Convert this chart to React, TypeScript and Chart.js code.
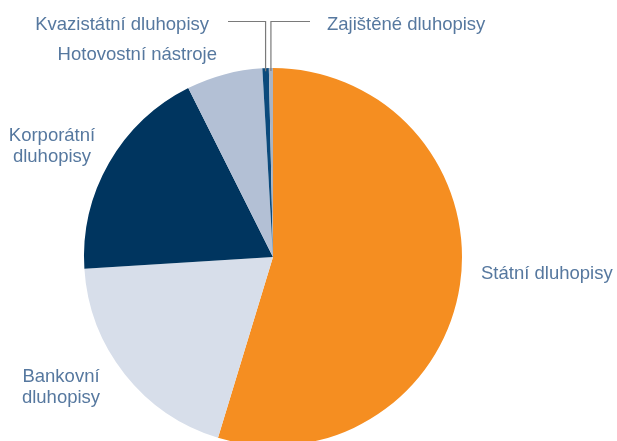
import React, { useEffect, useRef } from "react";
import { Chart, registerables } from "chart.js";

Chart.register(...registerables);

const categories = [
  "Státní dluhopisy",
  "Bankovní dluhopisy",
  "Korporátní dluhopisy",
  "Hotovostní nástroje",
  "Kvazistátní dluhopisy",
  "Zajištěné dluhopisy",
];
const values = [54.7, 19.3, 18.6, 6.5, 0.55, 0.35];
const colors = ["#F58E21", "#D7DEEA", "#00355F", "#B3C0D5", "#0B4A7C", "#A9B4C4"];

const TEXT_COLOR = "#56789F";
const FONT = "18.5px 'Liberation Sans', Arial, sans-serif";

const labelPlugin = {
  id: "pieLabels",
  afterDraw(chart: any) {
    const ctx = chart.ctx as CanvasRenderingContext2D;
    const meta = chart.getDatasetMeta(0);
    ctx.save();
    ctx.font = FONT;
    ctx.fillStyle = TEXT_COLOR;
    ctx.textBaseline = "alphabetic";

    const text = (s: string, x: number, y: number, align: CanvasTextAlign) => {
      ctx.textAlign = align;
      ctx.fillText(s, x, y);
    };
    text("Státní dluhopisy", 481, 279, "left");
    text("Bankovní", 61, 382, "center");
    text("dluhopisy", 61, 403, "center");
    text("Korporátní", 52, 141, "center");
    text("dluhopisy", 52, 162, "center");
    text("Hotovostní nástroje", 217, 60, "right");
    text("Kvazistátní dluhopisy", 209, 30, "right");
    text("Zajištěné dluhopisy", 327, 30, "left");

    // leader lines for the two small slices
    ctx.strokeStyle = "#7a7a7a";
    ctx.lineWidth = 1.2;
    const lineY = 21.5;
    const leader = (idx: number, toX: number) => {
      const arc = meta.data[idx];
      const p = arc.getProps(["x", "y", "startAngle", "endAngle", "outerRadius"], true);
      const mid = (p.startAngle + p.endAngle) / 2;
      const px = p.x + Math.cos(mid) * p.outerRadius;
      const py = p.y + Math.sin(mid) * (p.outerRadius - 3);
      ctx.beginPath();
      ctx.moveTo(toX, lineY);
      ctx.lineTo(px, lineY);
      ctx.lineTo(px, py);
      ctx.stroke();
    };
    leader(4, 228);
    leader(5, 310);
    ctx.restore();
  },
};

export default function App() {
  const ref = useRef<HTMLCanvasElement>(null);
  useEffect(() => {
    if (!ref.current) return;
    const chart = new Chart(ref.current, {
      type: "pie",
      data: {
        labels: categories,
        datasets: [
          {
            data: values,
            backgroundColor: colors,
            borderWidth: 0,
          },
        ],
      },
      options: {
        responsive: false,
        animation: false,
        rotation: 0,
        layout: { padding: { left: 84, right: 155, top: 68, bottom: 14 } },
        plugins: {
          legend: { display: false },
          tooltip: { enabled: false },
        },
      },
      plugins: [labelPlugin],
    });
    return () => chart.destroy();
  }, []);
  return (
    <div style={{ position: "fixed", left: 0, top: 0, width: 617, height: 441, overflow: "hidden", background: "#fff" }}>
      <canvas ref={ref} width={617} height={460} style={{ display: "block" }} />
    </div>
  );
}
